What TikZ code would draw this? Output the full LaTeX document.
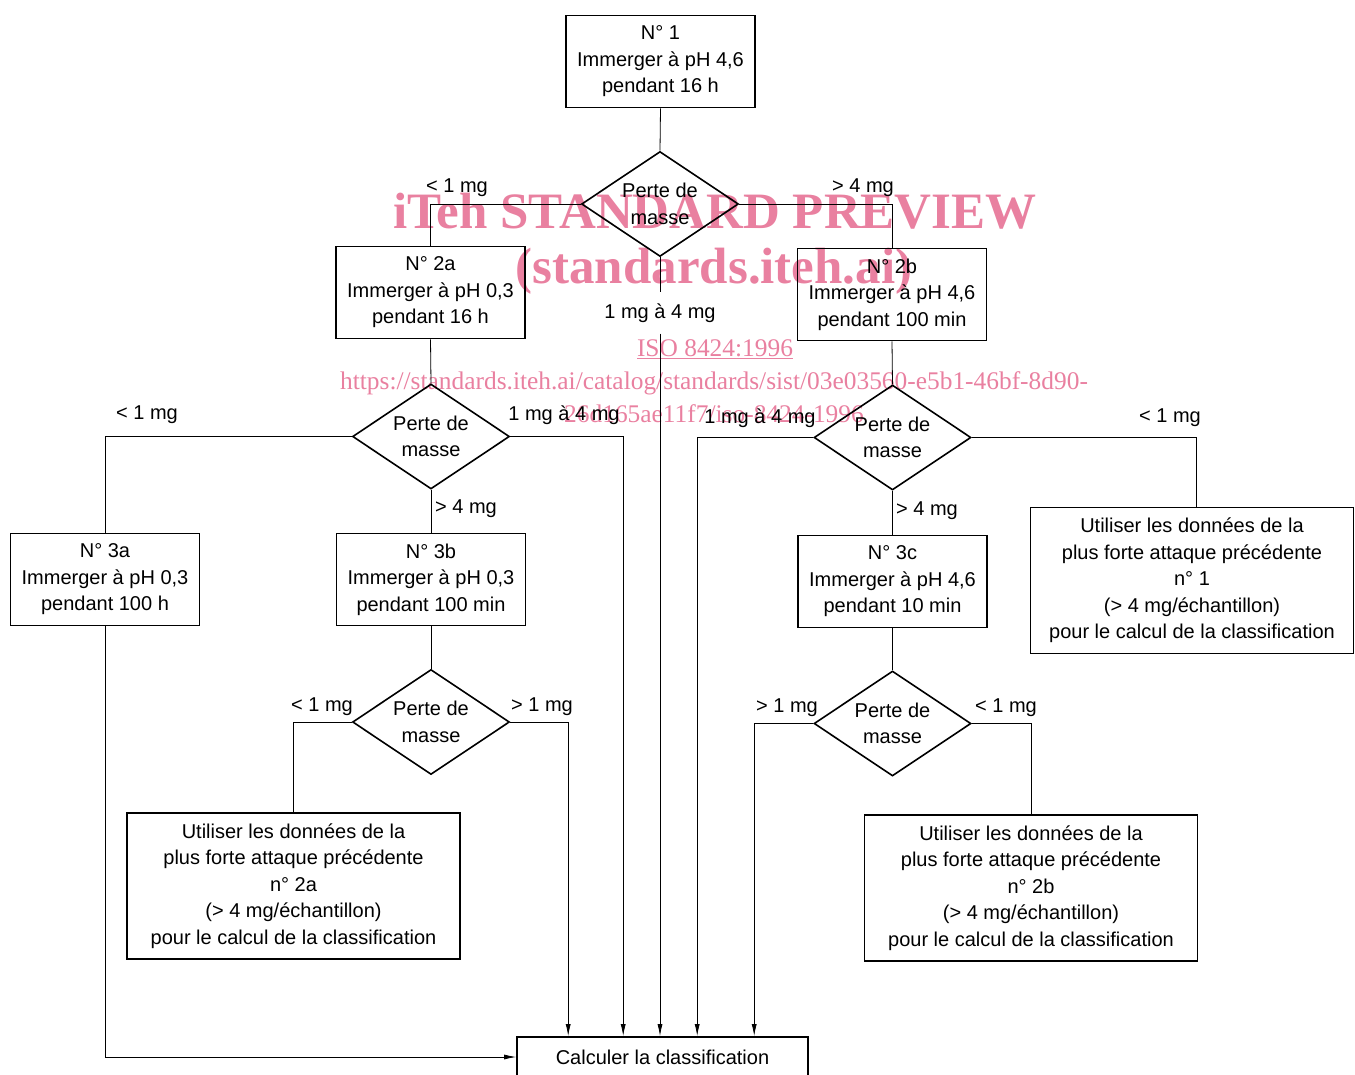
\documentclass[tikz,border=0pt]{standalone}
\usepackage{fontspec}
\setmainfont{Liberation Sans}
\newfontfamily\wmfont{Liberation Serif}
\usetikzlibrary{shapes.geometric,arrows.meta}
\definecolor{wmpink}{RGB}{233,128,160}
\newcommand\dfont{\fontsize{20}{26.5}\selectfont}
\begin{document}
\begin{tikzpicture}[x=1pt,y=-1pt,
  box/.style={draw,line width=1.6pt,minimum width=189pt,minimum height=92pt,inner sep=0pt,align=center,font=\dfont},
  widebox/.style={box,minimum width=333pt,minimum height=146pt},
  dia/.style={draw,shape=diamond,aspect=1.6,line width=1.6pt,minimum width=157pt,minimum height=105pt,inner sep=0pt,align=center,font=\dfont},
  lbl/.style={inner sep=0pt,font=\dfont},
  conn/.style={line width=0.8pt},
  arr/.style={conn,-{Latex[length=12pt,width=5pt]}},
  wmbig/.style={text=wmpink,inner sep=0pt,font=\wmfont\bfseries\fontsize{51}{51}\selectfont},
  wmsmall/.style={text=wmpink,inner sep=0pt,font=\wmfont\fontsize{25.4}{25.4}\selectfont}]
\useasboundingbox (0,0) rectangle (1355,1075);
% watermark
\node[wmbig] (w1) at (715,211) {iTeh STANDARD PREVIEW};
\node[wmbig] (w2) at (714,271) {(standards.iteh.ai)};
\node[wmsmall] (w3) at (715,349) {\underline{ISO 8424:1996}};
\node[wmsmall] (w4) at (714,383) {https://standards.iteh.ai/catalog/standards/sist/03e03560-e5b1-46bf-8d90-};
\node[wmsmall] (w5) at (714,414) {26d165ae11f7/iso-8424-1996};
% nodes
\node[box] (n1) at (660.5,61.5) {N° 1\\Immerger à pH 4,6\\pendant 16 h};
\node[dia] (d1) at (660,204) {Perte de\\masse};
\node[box] (n2a) at (430.5,292.5) {N° 2a\\Immerger à pH 0,3\\pendant 16 h};
\node[box] (n2b) at (892,294.5) {N° 2b\\Immerger à pH 4,6\\pendant 100 min};
\node[dia] (d2) at (431,436.5) {Perte de\\masse};
\node[dia] (d3) at (892.5,437.5) {Perte de\\masse};
\node[box] (n3a) at (105,579.5) {N° 3a\\Immerger à pH 0,3\\pendant 100 h};
\node[box] (n3b) at (431,579.5) {N° 3b\\Immerger à pH 0,3\\pendant 100 min};
\node[box] (n3c) at (892.5,581.5) {N° 3c\\Immerger à pH 4,6\\pendant 10 min};
\node[widebox,minimum width=323pt] (u1) at (1192,580.5) {Utiliser les données de la\\plus forte attaque précédente\\n° 1\\(> 4 mg/échantillon)\\pour le calcul de la classification};
\node[dia] (d4) at (431,722) {Perte de\\masse};
\node[dia] (d5) at (892.5,723.5) {Perte de\\masse};
\node[widebox] (u2a) at (293.5,886) {Utiliser les données de la\\plus forte attaque précédente\\n° 2a\\(> 4 mg/échantillon)\\pour le calcul de la classification};
\node[widebox] (u2b) at (1031,888) {Utiliser les données de la\\plus forte attaque précédente\\n° 2b\\(> 4 mg/échantillon)\\pour le calcul de la classification};
\node[box,minimum width=291pt,minimum height=40pt] (calc) at (662.5,1057) {Calculer la classification};
% labels
\node[lbl] (l1) at (457,188) {< 1 mg};
\node[lbl] (l2) at (863,188) {> 4 mg};
\node[lbl,inner ysep=11pt] (m1) at (660,313) {1 mg à 4 mg};
\node[lbl] (l3) at (147,415) {< 1 mg};
\node[lbl] (l4) at (564,415) {1 mg à 4 mg};
\node[lbl] (l5) at (466,509) {> 4 mg};
\node[lbl] (l6) at (760,418) {1 mg à 4 mg};
\node[lbl] (l7) at (1170,418) {< 1 mg};
\node[lbl] (l8) at (927,511) {> 4 mg};
\node[lbl] (l9) at (322,707) {< 1 mg};
\node[lbl] (l10) at (542,707) {> 1 mg};
\node[lbl] (l11) at (787,708) {> 1 mg};
\node[lbl] (l12) at (1006,708) {< 1 mg};
% connectors
\draw[conn] (n1.south) -- (d1.north);
\draw[conn] (d1.west) -| (n2a.north);
\draw[conn] (d1.east) -| (n2b.north);
\draw[conn] (d1.south) -- (m1.north);
\draw[arr] (m1.south) -- (m1.south |- calc.north);
\draw[conn] (n2a.south) -- (d2.north);
\draw[conn] (d2.west) -| (n3a.north);
\draw[conn] (d2.south) -- (n3b.north);
\draw[arr] (d2.east) -| ([xshift=107pt]calc.north west);
\draw[arr] (n3a.south) |- (calc.west);
\draw[conn] (n3b.south) -- (d4.north);
\draw[conn] (d4.west) -| (u2a.north);
\draw[arr] (d4.east) -| ([xshift=52pt]calc.north west);
\draw[conn] (n2b.south) -- (d3.north);
\draw[conn] (d3.south) -- (n3c.north);
\draw[arr] (d3.west) -| ([xshift=181pt]calc.north west);
\draw[conn] (d3.east) -| ([xshift=4pt]u1.north);
\draw[conn] (n3c.south) -- (d5.north);
\draw[arr] (d5.west) -| ([xshift=238pt]calc.north west);
\draw[conn] (d5.east) -| (u2b.north);
\end{tikzpicture}
\end{document}
